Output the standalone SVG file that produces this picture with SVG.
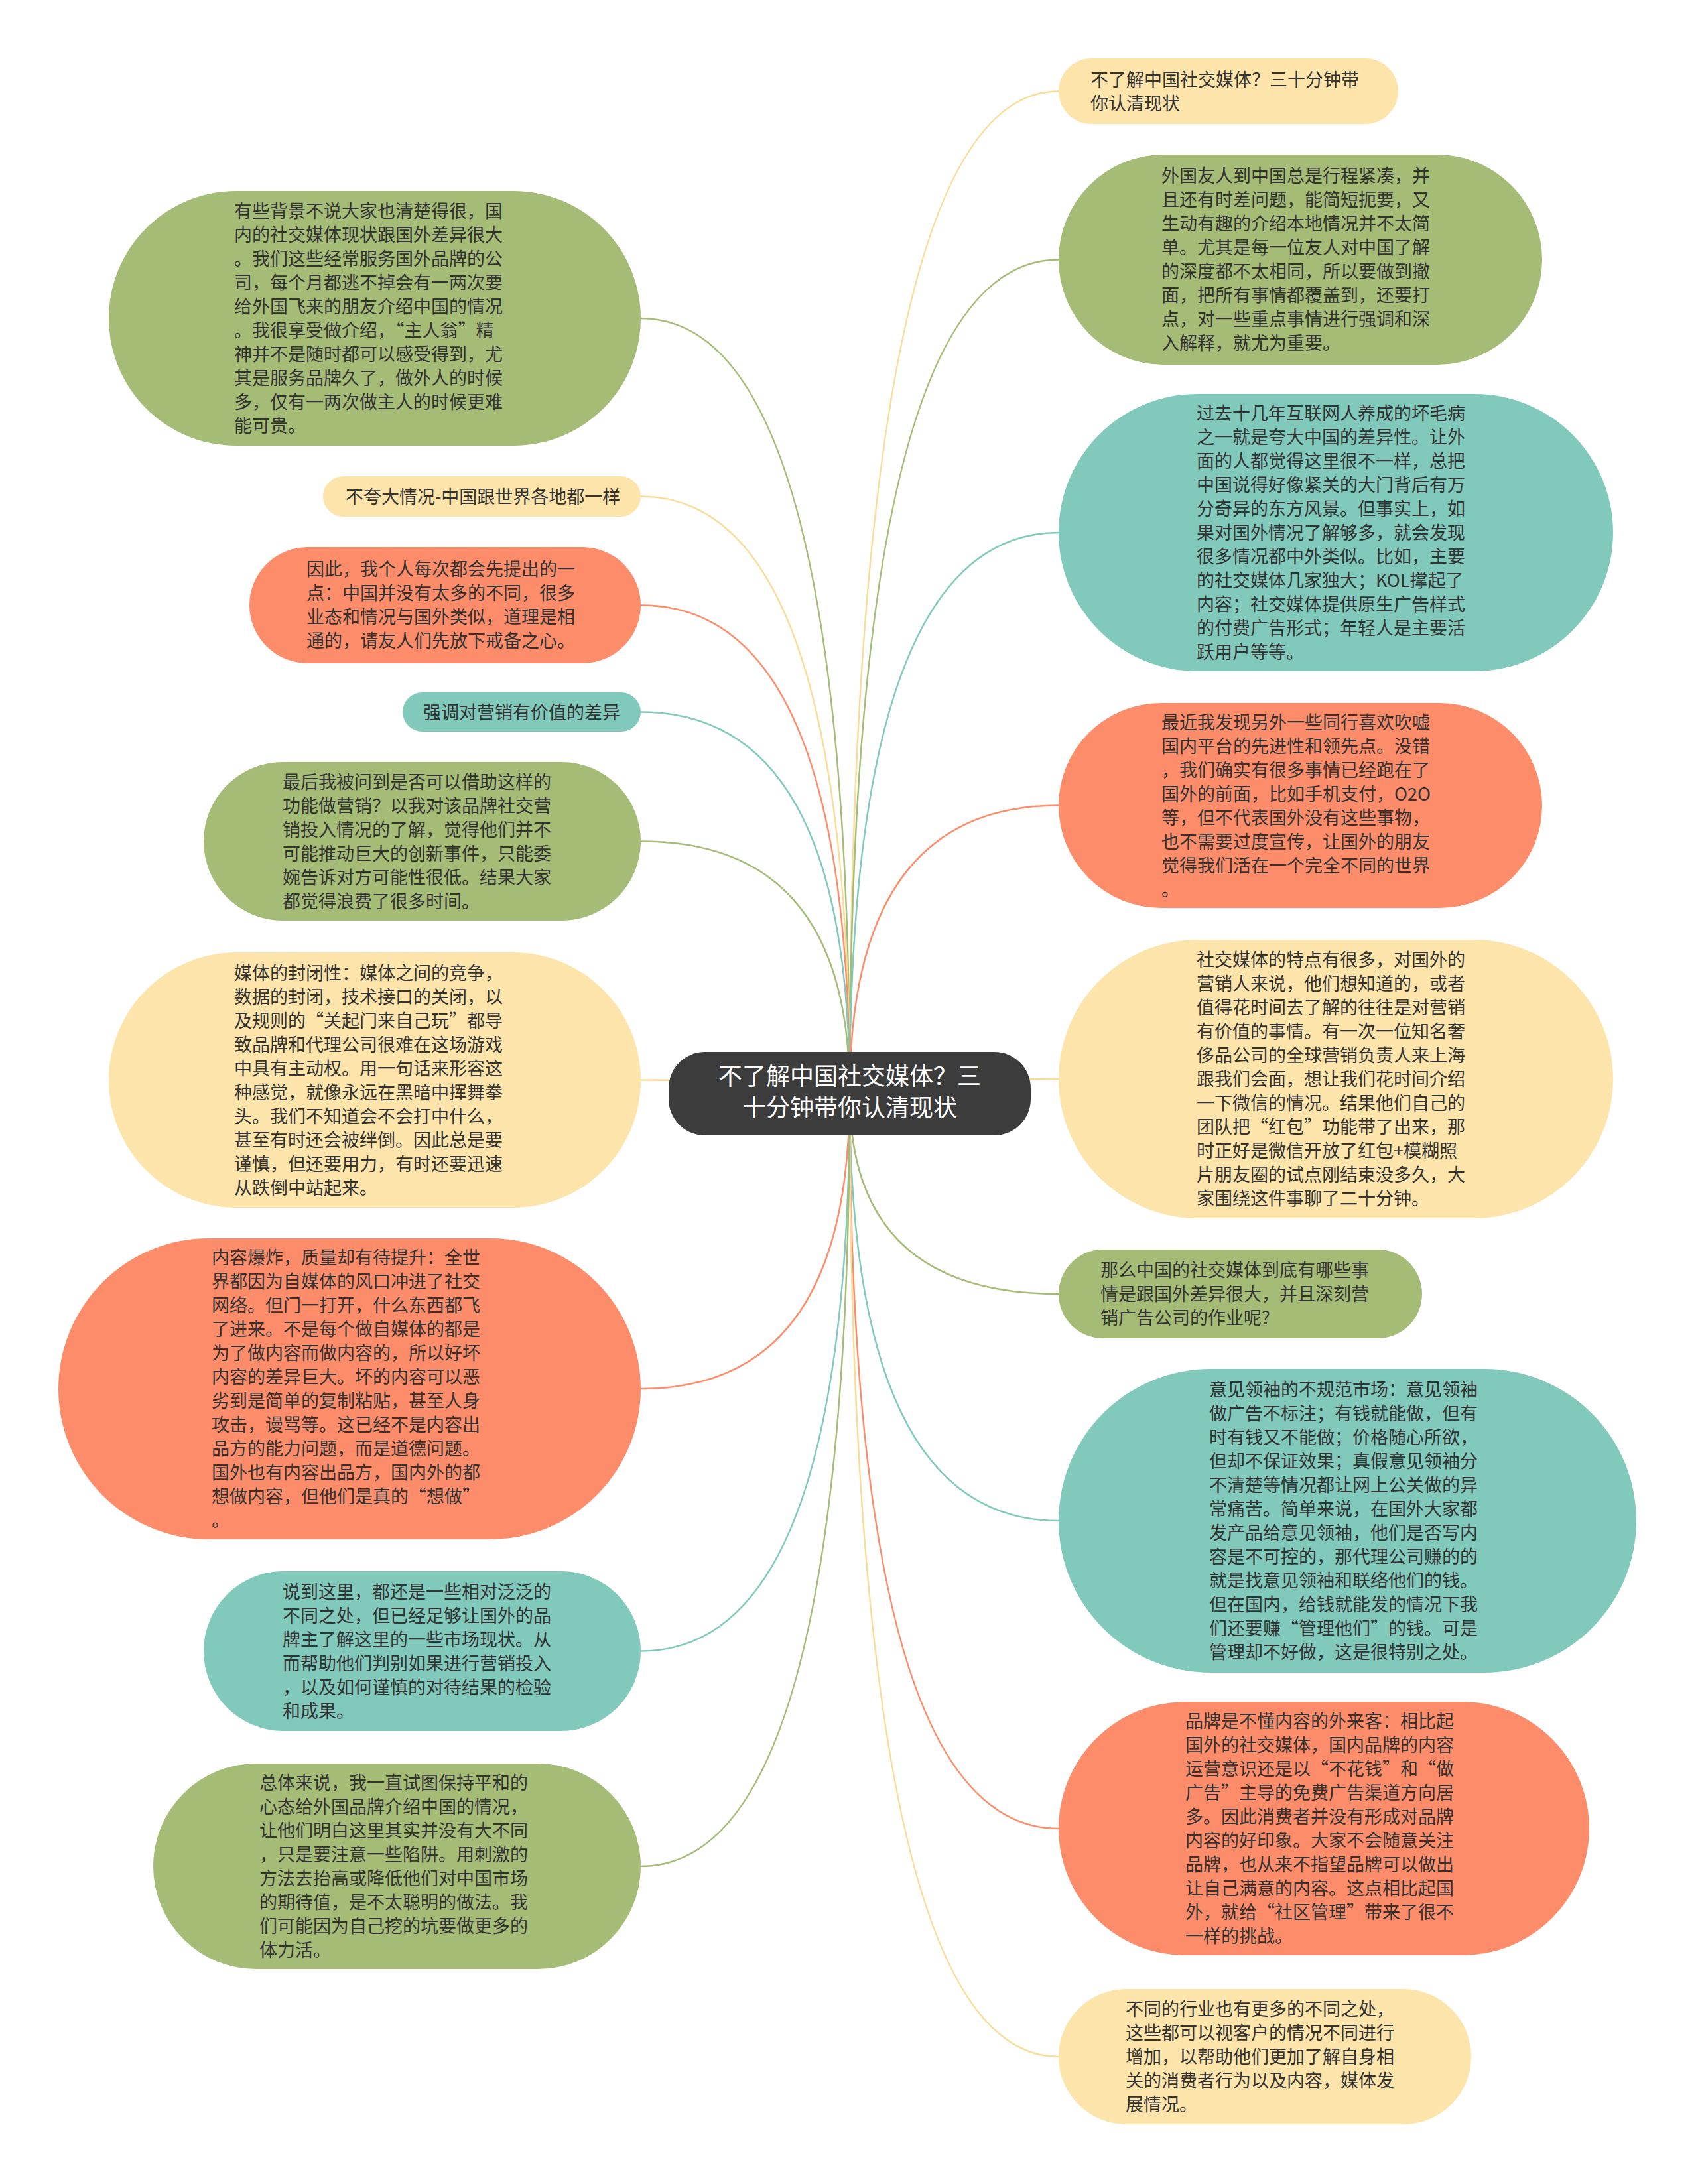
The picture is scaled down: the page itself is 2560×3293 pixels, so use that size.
<svg xmlns="http://www.w3.org/2000/svg" width="2560" height="3293" viewBox="0 0 2560 3293">
<style>
.g{fill:#a5bc77}.t{fill:#80c9bb}.s{fill:#fd8d6a}.y{fill:#fde4aa}
.lg{stroke:#a5bc77}.lt{stroke:#80c9bb}.ls{stroke:#fd8d6a}.ly{stroke:#f8dc98}
#links path{fill:none;stroke-width:2.5}
.tx{font-family:"Noto Sans CJK SC","Noto Sans",sans-serif;font-size:27px;fill:#333}
.rt{font-family:"Noto Sans CJK SC","Noto Sans",sans-serif;font-size:36px;fill:#fff;text-anchor:middle}
</style>
<rect width="2560" height="3293" fill="#fff"/>
<g id="links">
<path class="ly" d="M1281 1649 Q1281 137.5 1596 137.5"/>
<path class="lg" d="M1281 1649 Q1281 391.5 1596 391.5"/>
<path class="lt" d="M1281 1649 Q1281 803 1596 803"/>
<path class="ls" d="M1281 1649 Q1281 1214.5 1596 1214.5"/>
<path class="ly" d="M1281 1649 Q1281 1627 1596 1627"/>
<path class="lg" d="M1281 1649 Q1281 1951 1596 1951"/>
<path class="lt" d="M1281 1649 Q1281 2293 1596 2293"/>
<path class="ls" d="M1281 1649 Q1281 2757 1596 2757"/>
<path class="ly" d="M1281 1649 Q1281 3101 1596 3101"/>
<path class="lg" d="M1281 1649 Q1281 480 966 480"/>
<path class="ly" d="M1281 1649 Q1281 748.5 966 748.5"/>
<path class="ls" d="M1281 1649 Q1281 912.5 966 912.5"/>
<path class="lt" d="M1281 1649 Q1281 1073.5 966 1073.5"/>
<path class="lg" d="M1281 1649 Q1281 1268.5 966 1268.5"/>
<path class="ly" d="M1281 1649 Q1281 1628.5 966 1628.5"/>
<path class="ls" d="M1281 1649 Q1281 2094 966 2094"/>
<path class="lt" d="M1281 1649 Q1281 2489.5 966 2489.5"/>
<path class="lg" d="M1281 1649 Q1281 2814 966 2814"/>
</g>
<g id="root">
<rect x="1008" y="1586" width="546" height="126" rx="55" fill="#3c3c3c"/>
<text class="rt"><tspan x="1281" y="1636">不了解中国社交媒体？三</tspan><tspan x="1281" y="1683">十分钟带你认清现状</tspan></text>
</g>
<g id="r1">
<rect class="y" x="1596" y="88" width="512" height="99" rx="49.5"/>
<text class="tx"><tspan x="1644" y="129.5">不了解中国社交媒体？三十分钟带</tspan><tspan x="1644" y="165.5">你认清现状</tspan></text>
</g>
<g id="r2">
<rect class="g" x="1596" y="233" width="729" height="317" rx="158.5"/>
<text class="tx"><tspan x="1751" y="275">外国友人到中国总是行程紧凑，并</tspan><tspan x="1751" y="311">且还有时差问题，能简短扼要，又</tspan><tspan x="1751" y="347">生动有趣的介绍本地情况并不太简</tspan><tspan x="1751" y="383">单。尤其是每一位友人对中国了解</tspan><tspan x="1751" y="419">的深度都不太相同，所以要做到撤</tspan><tspan x="1751" y="455">面，把所有事情都覆盖到，还要打</tspan><tspan x="1751" y="491">点，对一些重点事情进行强调和深</tspan><tspan x="1751" y="527">入解释，就尤为重要。</tspan></text>
</g>
<g id="r3">
<rect class="t" x="1596" y="594" width="836" height="418" rx="209"/>
<text class="tx"><tspan x="1804" y="633">过去十几年互联网人养成的坏毛病</tspan><tspan x="1804" y="669">之一就是夸大中国的差异性。让外</tspan><tspan x="1804" y="705">面的人都觉得这里很不一样，总把</tspan><tspan x="1804" y="741">中国说得好像紧关的大门背后有万</tspan><tspan x="1804" y="777">分奇异的东方风景。但事实上，如</tspan><tspan x="1804" y="813">果对国外情况了解够多，就会发现</tspan><tspan x="1804" y="849">很多情况都中外类似。比如，主要</tspan><tspan x="1804" y="885">的社交媒体几家独大；KOL撑起了</tspan><tspan x="1804" y="921">内容；社交媒体提供原生广告样式</tspan><tspan x="1804" y="957">的付费广告形式；年轻人是主要活</tspan><tspan x="1804" y="993">跃用户等等。</tspan></text>
</g>
<g id="r4">
<rect class="s" x="1596" y="1060" width="729" height="309" rx="154.5"/>
<text class="tx"><tspan x="1751" y="1098.5">最近我发现另外一些同行喜欢吹嘘</tspan><tspan x="1751" y="1134.5">国内平台的先进性和领先点。没错</tspan><tspan x="1751" y="1170.5">，我们确实有很多事情已经跑在了</tspan><tspan x="1751" y="1206.5">国外的前面，比如手机支付，O2O</tspan><tspan x="1751" y="1242.5">等，但不代表国外没有这些事物，</tspan><tspan x="1751" y="1278.5">也不需要过度宣传，让国外的朋友</tspan><tspan x="1751" y="1314.5">觉得我们活在一个完全不同的世界</tspan><tspan x="1751" y="1350.5">。</tspan></text>
</g>
<g id="r5">
<rect class="y" x="1596" y="1417" width="836" height="420" rx="210"/>
<text class="tx"><tspan x="1804" y="1457">社交媒体的特点有很多，对国外的</tspan><tspan x="1804" y="1493">营销人来说，他们想知道的，或者</tspan><tspan x="1804" y="1529">值得花时间去了解的往往是对营销</tspan><tspan x="1804" y="1565">有价值的事情。有一次一位知名奢</tspan><tspan x="1804" y="1601">侈品公司的全球营销负责人来上海</tspan><tspan x="1804" y="1637">跟我们会面，想让我们花时间介绍</tspan><tspan x="1804" y="1673">一下微信的情况。结果他们自己的</tspan><tspan x="1804" y="1709">团队把“红包”功能带了出来，那</tspan><tspan x="1804" y="1745">时正好是微信开放了红包+模糊照</tspan><tspan x="1804" y="1781">片朋友圈的试点刚结束没多久，大</tspan><tspan x="1804" y="1817">家围绕这件事聊了二十分钟。</tspan></text>
</g>
<g id="r6">
<rect class="g" x="1596" y="1884" width="548" height="134" rx="67"/>
<text class="tx"><tspan x="1659" y="1925">那么中国的社交媒体到底有哪些事</tspan><tspan x="1659" y="1961">情是跟国外差异很大，并且深刻营</tspan><tspan x="1659" y="1997">销广告公司的作业呢?</tspan></text>
</g>
<g id="r7">
<rect class="t" x="1596" y="2064" width="871" height="458" rx="229"/>
<text class="tx"><tspan x="1823" y="2105">意见领袖的不规范市场：意见领袖</tspan><tspan x="1823" y="2141">做广告不标注；有钱就能做，但有</tspan><tspan x="1823" y="2177">时有钱又不能做；价格随心所欲，</tspan><tspan x="1823" y="2213">但却不保证效果；真假意见领袖分</tspan><tspan x="1823" y="2249">不清楚等情况都让网上公关做的异</tspan><tspan x="1823" y="2285">常痛苦。简单来说，在国外大家都</tspan><tspan x="1823" y="2321">发产品给意见领袖，他们是否写内</tspan><tspan x="1823" y="2357">容是不可控的，那代理公司赚的的</tspan><tspan x="1823" y="2393">就是找意见领袖和联络他们的钱。</tspan><tspan x="1823" y="2429">但在国内，给钱就能发的情况下我</tspan><tspan x="1823" y="2465">们还要赚“管理他们”的钱。可是</tspan><tspan x="1823" y="2501">管理却不好做，这是很特别之处。</tspan></text>
</g>
<g id="r8">
<rect class="s" x="1596" y="2566" width="800" height="382" rx="191"/>
<text class="tx"><tspan x="1787" y="2605">品牌是不懂内容的外来客：相比起</tspan><tspan x="1787" y="2641">国外的社交媒体，国内品牌的内容</tspan><tspan x="1787" y="2677">运营意识还是以“不花钱”和“做</tspan><tspan x="1787" y="2713">广告”主导的免费广告渠道方向居</tspan><tspan x="1787" y="2749">多。因此消费者并没有形成对品牌</tspan><tspan x="1787" y="2785">内容的好印象。大家不会随意关注</tspan><tspan x="1787" y="2821">品牌，也从来不指望品牌可以做出</tspan><tspan x="1787" y="2857">让自己满意的内容。这点相比起国</tspan><tspan x="1787" y="2893">外，就给“社区管理”带来了很不</tspan><tspan x="1787" y="2929">一样的挑战。</tspan></text>
</g>
<g id="r9">
<rect class="y" x="1596" y="2999" width="622" height="204" rx="102"/>
<text class="tx"><tspan x="1697" y="3039">不同的行业也有更多的不同之处，</tspan><tspan x="1697" y="3075">这些都可以视客户的情况不同进行</tspan><tspan x="1697" y="3111">增加，以帮助他们更加了解自身相</tspan><tspan x="1697" y="3147">关的消费者行为以及内容，媒体发</tspan><tspan x="1697" y="3183">展情况。</tspan></text>
</g>
<g id="l1">
<rect class="g" x="164" y="288" width="802" height="384" rx="192"/>
<text class="tx"><tspan x="353" y="328">有些背景不说大家也清楚得很，国</tspan><tspan x="353" y="364">内的社交媒体现状跟国外差异很大</tspan><tspan x="353" y="400">。我们这些经常服务国外品牌的公</tspan><tspan x="353" y="436">司，每个月都逃不掉会有一两次要</tspan><tspan x="353" y="472">给外国飞来的朋友介绍中国的情况</tspan><tspan x="353" y="508">。我很享受做介绍，“主人翁”精</tspan><tspan x="353" y="544">神并不是随时都可以感受得到，尤</tspan><tspan x="353" y="580">其是服务品牌久了，做外人的时候</tspan><tspan x="353" y="616">多，仅有一两次做主人的时候更难</tspan><tspan x="353" y="652">能可贵。</tspan></text>
</g>
<g id="l2">
<rect class="y" x="487" y="718" width="479" height="61" rx="30.5"/>
<text class="tx"><tspan x="521" y="758.5">不夸大情况-中国跟世界各地都一样</tspan></text>
</g>
<g id="l3">
<rect class="s" x="376" y="825" width="590" height="175" rx="87.5"/>
<text class="tx"><tspan x="462" y="868">因此，我个人每次都会先提出的一</tspan><tspan x="462" y="904">点：中国并没有太多的不同，很多</tspan><tspan x="462" y="940">业态和情况与国外类似，道理是相</tspan><tspan x="462" y="976">通的，请友人们先放下戒备之心。</tspan></text>
</g>
<g id="l4">
<rect class="t" x="607" y="1044" width="359" height="59" rx="29.5"/>
<text class="tx"><tspan x="638" y="1083.5">强调对营销有价值的差异</tspan></text>
</g>
<g id="l5">
<rect class="g" x="307" y="1149" width="659" height="239" rx="119.5"/>
<text class="tx"><tspan x="426" y="1188.5">最后我被问到是否可以借助这样的</tspan><tspan x="426" y="1224.5">功能做营销？以我对该品牌社交营</tspan><tspan x="426" y="1260.5">销投入情况的了解，觉得他们并不</tspan><tspan x="426" y="1296.5">可能推动巨大的创新事件，只能委</tspan><tspan x="426" y="1332.5">婉告诉对方可能性很低。结果大家</tspan><tspan x="426" y="1368.5">都觉得浪费了很多时间。</tspan></text>
</g>
<g id="l6">
<rect class="y" x="164" y="1436" width="802" height="385" rx="192.5"/>
<text class="tx"><tspan x="353" y="1476.5">媒体的封闭性：媒体之间的竞争，</tspan><tspan x="353" y="1512.5">数据的封闭，技术接口的关闭，以</tspan><tspan x="353" y="1548.5">及规则的“关起门来自己玩”都导</tspan><tspan x="353" y="1584.5">致品牌和代理公司很难在这场游戏</tspan><tspan x="353" y="1620.5">中具有主动权。用一句话来形容这</tspan><tspan x="353" y="1656.5">种感觉，就像永远在黑暗中挥舞拳</tspan><tspan x="353" y="1692.5">头。我们不知道会不会打中什么，</tspan><tspan x="353" y="1728.5">甚至有时还会被绊倒。因此总是要</tspan><tspan x="353" y="1764.5">谨慎，但还要用力，有时还要迅速</tspan><tspan x="353" y="1800.5">从跌倒中站起来。</tspan></text>
</g>
<g id="l7">
<rect class="s" x="88" y="1867" width="878" height="454" rx="227"/>
<text class="tx"><tspan x="319" y="1906">内容爆炸，质量却有待提升：全世</tspan><tspan x="319" y="1942">界都因为自媒体的风口冲进了社交</tspan><tspan x="319" y="1978">网络。但门一打开，什么东西都飞</tspan><tspan x="319" y="2014">了进来。不是每个做自媒体的都是</tspan><tspan x="319" y="2050">为了做内容而做内容的，所以好坏</tspan><tspan x="319" y="2086">内容的差异巨大。坏的内容可以恶</tspan><tspan x="319" y="2122">劣到是简单的复制粘贴，甚至人身</tspan><tspan x="319" y="2158">攻击，谩骂等。这已经不是内容出</tspan><tspan x="319" y="2194">品方的能力问题，而是道德问题。</tspan><tspan x="319" y="2230">国外也有内容出品方，国内外的都</tspan><tspan x="319" y="2266">想做内容，但他们是真的“想做”</tspan><tspan x="319" y="2302">。</tspan></text>
</g>
<g id="l8">
<rect class="t" x="307" y="2369" width="659" height="241" rx="120.5"/>
<text class="tx"><tspan x="426" y="2409.5">说到这里，都还是一些相对泛泛的</tspan><tspan x="426" y="2445.5">不同之处，但已经足够让国外的品</tspan><tspan x="426" y="2481.5">牌主了解这里的一些市场现状。从</tspan><tspan x="426" y="2517.5">而帮助他们判别如果进行营销投入</tspan><tspan x="426" y="2553.5">，以及如何谨慎的对待结果的检验</tspan><tspan x="426" y="2589.5">和成果。</tspan></text>
</g>
<g id="l9">
<rect class="g" x="231" y="2659" width="735" height="310" rx="155"/>
<text class="tx"><tspan x="391" y="2698">总体来说，我一直试图保持平和的</tspan><tspan x="391" y="2734">心态给外国品牌介绍中国的情况，</tspan><tspan x="391" y="2770">让他们明白这里其实并没有大不同</tspan><tspan x="391" y="2806">，只是要注意一些陷阱。用刺激的</tspan><tspan x="391" y="2842">方法去抬高或降低他们对中国市场</tspan><tspan x="391" y="2878">的期待值，是不太聪明的做法。我</tspan><tspan x="391" y="2914">们可能因为自己挖的坑要做更多的</tspan><tspan x="391" y="2950">体力活。</tspan></text>
</g>
</svg>
